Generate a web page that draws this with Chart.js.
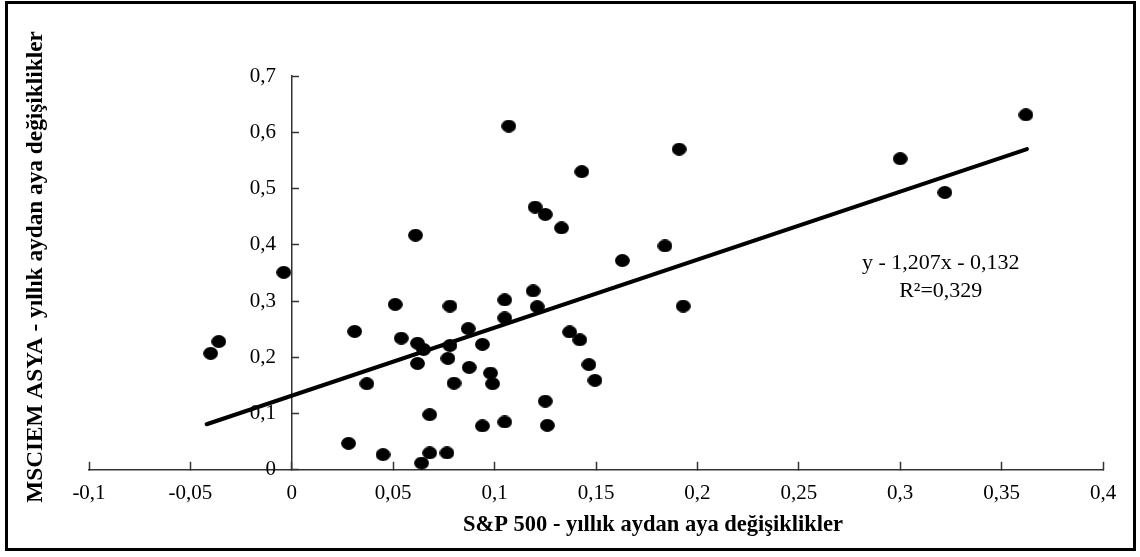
<!DOCTYPE html>
<html>
<head>
<meta charset="utf-8">
<script src="https://cdn.jsdelivr.net/npm/chart.js@4"></script>
<style>
  html, body { margin: 0; padding: 0; background: #fff; }
  #wrap { position: relative; width: 1140px; height: 557px; }
  #frame {
    position: absolute; left: 5px; top: 1px; width: 1125px; height: 544px;
    border: 3px solid #000; pointer-events: none;
  }
  canvas { position: absolute; left: 0; top: 0; }
</style>
</head>
<body>
<div id="wrap">
  <canvas id="scatterChart" width="1140" height="557"></canvas>
  <div id="frame"></div>
</div>
<script>
// S&P 500 monthly yoy changes (x) vs MSCI EM Asia (y)
const spChanges = [
  -0.040, -0.036, -0.004, 0.028, 0.031, 0.037, 0.045, 0.051, 0.054, 0.061,
  0.062, 0.062, 0.065, 0.064, 0.068, 0.068, 0.0765, 0.077, 0.078, 0.078,
  0.080, 0.087, 0.0875, 0.094, 0.094, 0.098, 0.099, 0.105, 0.105, 0.105,
  0.107, 0.119, 0.120, 0.121, 0.125, 0.125, 0.126, 0.133, 0.137, 0.142,
  0.143, 0.1465, 0.1495, 0.163, 0.184, 0.191, 0.193, 0.300, 0.322, 0.362
];
const msciChanges = [
  0.207, 0.228, 0.351, 0.047, 0.246, 0.153, 0.027, 0.294, 0.234, 0.417,
  0.189, 0.225, 0.214, 0.012, 0.098, 0.030, 0.030, 0.198, 0.291, 0.221,
  0.154, 0.251, 0.182, 0.223, 0.078, 0.172, 0.153, 0.302, 0.270, 0.085,
  0.611, 0.318, 0.467, 0.290, 0.454, 0.122, 0.079, 0.430, 0.245, 0.231,
  0.530, 0.187, 0.159, 0.372, 0.398, 0.570, 0.291, 0.553, 0.493, 0.631
];

// Trend line end points
const trendX = [-0.042, 0.3625];
const trendY = [0.081, 0.570];

// Texts
const xTitle = 'S&P 500 - yıllık aydan aya değişiklikler';
const yTitle = 'MSCIEM ASYA - yıllık aydan aya değişiklikler';
const eqLines = ['y - 1,207x - 0,132', 'R²=0,329'];
const eqAnchorX = 0.32;
const eqAnchorY = [0.367, 0.3166];

const serif = "'Liberation Serif', 'Times New Roman', serif";

// Slightly flattened dot like in the original
function makeDot() {
    const c = document.createElement('canvas');
    c.width = 15;
    c.height = 13;
    const g = c.getContext('2d');
    g.fillStyle = '#000';
    g.beginPath();
    g.ellipse(7.5, 6.5, 7.4, 6.4, 0, 0, Math.PI * 2);
    g.fill();
    return c;
}

function fmt(v) {
    return String(+Number(v).toFixed(2)).replace('.', ',');
}

// y labels sit right on the axis when it is placed at x=0, pad them off it
function fmtY(v) {
    return fmt(v) + '   ';
}

// Draws axis titles and the regression equation
const textPlugin = {
    id: 'texts',
    afterDraw(chart) {
        const ctx = chart.ctx;
        const x = chart.scales.x;
        const y = chart.scales.y;
        ctx.save();
        ctx.fillStyle = '#000';
        ctx.textAlign = 'center';
        ctx.textBaseline = 'middle';

        ctx.font = '22px ' + serif;
        eqLines.forEach((t, i) => {
            ctx.fillText(t, x.getPixelForValue(eqAnchorX), y.getPixelForValue(eqAnchorY[i]));
        });

        ctx.font = 'bold 22.5px ' + serif;
        ctx.fillText(xTitle, 653, 525);

        ctx.font = 'bold 23.3px ' + serif;
        ctx.translate(36, 267);
        ctx.rotate(-Math.PI / 2);
        ctx.fillText(yTitle, 0, 0);
        ctx.restore();
    }
};

const points = spChanges.map((v, i) => ({ x: v, y: msciChanges[i] }));
const trend = trendX.map((v, i) => ({ x: v, y: trendY[i] }));

const axisColor = '#333';

new Chart(document.getElementById('scatterChart'), {
    type: 'scatter',
    data: {
        datasets: [
            {
                label: 'points',
                data: points,
                pointStyle: makeDot(),
                pointRadius: 7,
                backgroundColor: '#000',
                borderColor: '#000'
            },
            {
                label: 'trend',
                type: 'line',
                data: trend,
                showLine: true,
                pointRadius: 0,
                borderColor: '#000',
                borderWidth: 4,
                borderCapStyle: 'round',
                fill: false
            }
        ]
    },
    options: {
        responsive: false,
        animation: false,
        devicePixelRatio: 1,
        layout: {
            padding: { left: 89, right: 37, top: 76, bottom: 32 }
        },
        scales: {
            x: {
                type: 'linear',
                position: 'bottom',
                min: -0.1,
                max: 0.4,
                ticks: {
                    stepSize: 0.05,
                    padding: 19,
                    color: '#000',
                    font: { family: serif, size: 21 },
                    callback: fmt
                },
                grid: {
                    drawOnChartArea: false,
                    drawTicks: true,
                    tickLength: -8,
                    tickColor: axisColor,
                    tickWidth: 1.5
                },
                border: { display: true, color: axisColor, width: 1.5 }
            },
            y: {
                type: 'linear',
                position: { x: 0 },
                min: 0,
                max: 0.7,
                ticks: {
                    stepSize: 0.1,
                    padding: 0,
                    color: '#000',
                    font: { family: serif, size: 21 },
                    callback: fmtY
                },
                grid: {
                    drawOnChartArea: false,
                    drawTicks: true,
                    tickLength: -8,
                    tickColor: axisColor,
                    tickWidth: 1.5
                },
                border: { display: true, color: axisColor, width: 1.5 }
            }
        },
        plugins: {
            legend: { display: false },
            tooltip: { enabled: false }
        }
    },
    plugins: [textPlugin]
});
</script>
</body>
</html>
